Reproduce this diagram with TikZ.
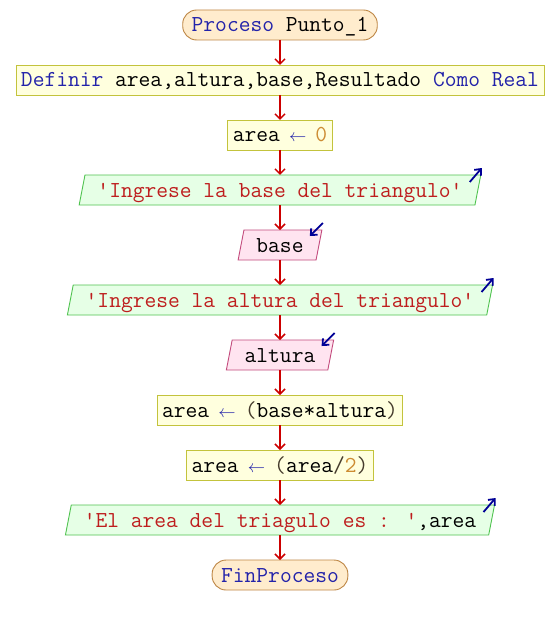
\documentclass[tikz,border=0pt]{standalone}
\usepackage{fontspec}
\usetikzlibrary{shapes.geometric, arrows.meta, positioning}
\definecolor{flowred}{RGB}{204,0,0}
\definecolor{ioblue}{RGB}{0,0,150}
\definecolor{kwdblue}{RGB}{35,35,170}
\definecolor{strgred}{RGB}{190,30,30}
\definecolor{numbtan}{RGB}{205,140,50}
\definecolor{oprgray}{RGB}{70,60,45}
\definecolor{termfill}{RGB}{255,236,205}
\definecolor{termborder}{RGB}{190,135,70}
\definecolor{procfill}{RGB}{255,255,222}
\definecolor{procborder}{RGB}{195,195,60}
\definecolor{writefill}{RGB}{230,255,230}
\definecolor{writeborder}{RGB}{80,195,80}
\definecolor{readfill}{RGB}{255,228,240}
\definecolor{readborder}{RGB}{195,75,125}
\newcommand{\kwd}[1]{\textcolor{kwdblue}{#1}}
\newcommand{\strg}[1]{\textcolor{strgred}{#1}}
\newcommand{\numb}[1]{\textcolor{numbtan}{#1}}
\newcommand{\opr}[1]{\textcolor{oprgray}{#1}}
\newcommand{\assign}{\makebox[12pt]{\textcolor{kwdblue}{\fontsize{18}{20}\selectfont$\leftarrow$}}}
\tikzstyle{terminal} = [rectangle, rounded corners=14pt, minimum height=30pt, inner xsep=9pt, inner ysep=0pt, outer sep=0pt, line width=0.9pt, text height=15pt, text depth=1pt, draw=termborder, fill=termfill, font=\ttfamily\fontsize{22.86}{26}\selectfont]
\tikzstyle{process} = [rectangle, minimum height=30pt, inner xsep=5pt, inner ysep=0pt, outer sep=0pt, line width=0.9pt, text height=15pt, text depth=1pt, draw=procborder, fill=procfill, font=\ttfamily\fontsize{22.86}{26}\selectfont]
\tikzstyle{writebox} = [trapezium, trapezium left angle=70, trapezium right angle=110, trapezium stretches=true, minimum height=30pt, inner xsep=12.5pt, inner ysep=0pt, outer sep=0pt, line width=0.9pt, text height=15pt, text depth=1pt, draw=writeborder, fill=writefill, font=\ttfamily\fontsize{22.86}{26}\selectfont]
\tikzstyle{readbox} = [writebox, draw=readborder, fill=readfill]
\tikzstyle{arrow} = [draw=flowred, line width=1.5pt, -{Straight Barb[length=5pt,width=10pt]}]
\tikzstyle{ioarrow} = [draw=ioblue, line width=1.8pt, -{Straight Barb[length=5pt,width=9pt]}]

\begin{document}
\begin{tikzpicture}[node distance=25pt]
\fill[white] (0,0) rectangle (560pt,625pt);
\useasboundingbox (0,0) rectangle (560pt,625pt);
% Start and declarations
\node (start) [terminal] at (280pt,600pt) {\kwd{Proceso} Punto\_1};
\node (define) [process, below=of start] {\kwd{Definir} area,altura,base,Resultado \kwd{Como Real}};
\node (init) [process, below=of define] {area \assign{} \numb{0}};
% Read the data
\node (askbase) [writebox, below=of init] {\strg{'Ingrese la base del triangulo'}};
\node (readbase) [readbox, below=of askbase] {base};
\node (askheight) [writebox, below=of readbase] {\strg{'Ingrese la altura del triangulo'}};
\node (readheight) [readbox, below=of askheight] {altura};
% Compute and show
\node (product) [process, below=of readheight] {area \assign{} \opr{(}base*altura\opr{)}};
\node (half) [process, below=of product] {area \assign{} \opr{(}area\opr{/}\numb{2}\opr{)}};
\node (result) [writebox, below=of half] {\strg{'El area del triagulo es : '},area};
\node (stop) [terminal, below=of result] {\kwd{FinProceso}};

% Arrows
\draw [arrow] (start.south) -- (define.north);
\draw [arrow] (define.south) -- (init.north);
\draw [arrow] (init.south) -- (askbase.north);
\draw [arrow] (askbase.south) -- (readbase.north);
\draw [arrow] (readbase.south) -- (askheight.north);
\draw [arrow] (askheight.south) -- (readheight.north);
\draw [arrow] (readheight.south) -- (product.north);
\draw [arrow] (product.south) -- (half.north);
\draw [arrow] (half.south) -- (result.north);
\draw [arrow] (result.south) -- (stop.north);

% Output and input marks
\foreach \n in {askbase, askheight, result}
  \draw [ioarrow] ([shift={(-11pt,-7pt)}]\n.top right corner) -- ([shift={(1pt,7pt)}]\n.top right corner);
\foreach \n in {readbase, readheight}
  \draw [ioarrow] ([shift={(1pt,7pt)}]\n.top right corner) -- ([shift={(-12pt,-6pt)}]\n.top right corner);
\end{tikzpicture}
\end{document}
